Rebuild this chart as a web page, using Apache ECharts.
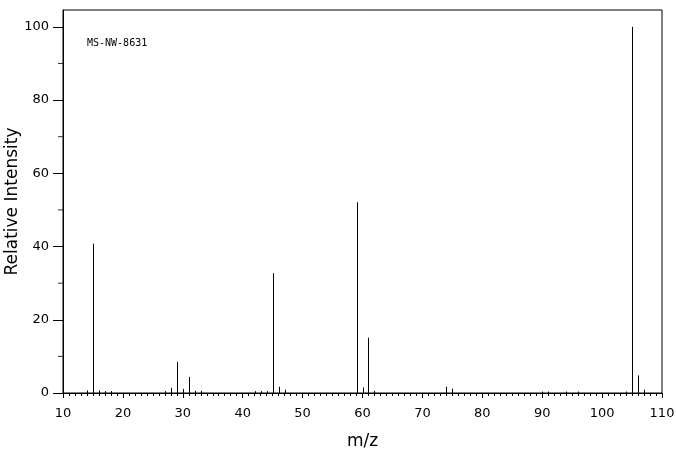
<!DOCTYPE html>
<html>
<head>
<meta charset="utf-8">
<script src="https://cdn.jsdelivr.net/npm/echarts@6/dist/echarts.min.js"></script>
<style>
  html, body { margin: 0; padding: 0; background: #fff; }
  #chart { width: 676px; height: 455px; }
</style>
</head>
<body>
<div id="chart"></div>
<script>
// m/z positions and relative intensities
const mzValues = [14, 15, 16, 17, 18, 27, 28, 29, 30, 31, 32, 33,
  42, 43, 44, 45, 46, 47, 59, 60, 61, 62, 74, 75, 90, 91, 94, 96,
  104, 105, 106, 107]
const intensities = [0.7, 40.8, 0.7, 0.5, 0.5, 0.5, 1.4, 8.5, 1.1, 4.4, 0.6, 0.6,
  0.5, 0.5, 0.5, 32.7, 1.7, 0.9, 52.1, 1.5, 15.1, 0.6, 1.7, 1.2, 0.4, 0.4, 0.4, 0.4,
  0.4, 100, 4.8, 0.9]
const yLabelValues = [0, 20, 40, 60, 80, 100]
const yTickValues = [0, 10, 20, 30, 40, 50, 60, 70, 80, 90, 100]
const sampleName = 'MS-NW-8631'

const peaks = mzValues.map((mz, i) => [mz, intensities[i]])
const font = 'DejaVu Sans'

// one crisp vertical stick per peak
function renderStick (params, api) {
  let top = api.coord([api.value(0), api.value(1)])
  let base = api.coord([api.value(0), 0])
  let x = Math.round(top[0]) + 0.5
  return {
    type: 'line',
    shape: { x1: x, y1: base[1], x2: x, y2: top[1] },
    style: { stroke: '#000', lineWidth: 1 }
  }
}

let chart = echarts.init(document.getElementById('chart'))
chart.setOption({
  animation: false,
  backgroundColor: '#fff',
  title: {
    text: sampleName,
    left: 82,
    top: 33,
    textStyle: { fontFamily: 'DejaVu Sans Mono', fontSize: 10, fontWeight: 'normal', color: '#000' }
  },
  grid: {
    left: 63,
    right: 14,
    top: 10,
    bottom: 62,
    containLabel: false,
    outerBoundsMode: 'none',
    show: true,
    borderColor: '#000',
    borderWidth: 1
  },
  xAxis: {
    type: 'value',
    min: 10,
    max: 110,
    interval: 10,
    name: 'm/z',
    nameLocation: 'middle',
    nameGap: 40,
    nameMoveOverlap: false,
    nameTextStyle: { fontFamily: font, fontSize: 17, color: '#000' },
    axisLine: { lineStyle: { color: '#000', width: 1 } },
    axisTick: { length: 5, lineStyle: { color: '#000' } },
    minorTick: { show: true, splitNumber: 10, length: 3, lineStyle: { color: '#000' } },
    axisLabel: { fontFamily: font, fontSize: 13, color: '#000', margin: 14 },
    splitLine: { show: false }
  },
  yAxis: {
    type: 'value',
    min: 0,
    max: 104.6,
    name: 'Relative Intensity',
    nameLocation: 'middle',
    nameGap: 42,
    nameMoveOverlap: false,
    nameTextStyle: { fontFamily: font, fontSize: 17, color: '#000' },
    axisLine: { show: true, lineStyle: { color: '#000', width: 1 } },
    axisTick: { show: true, length: 10, customValues: yLabelValues, lineStyle: { color: '#000' } },
    minorTick: { show: false },
    axisLabel: { fontFamily: font, fontSize: 13, color: '#000', margin: 14, customValues: yLabelValues },
    splitLine: { show: false }
  },
  series: [
    {
      // minor y ticks at odd tens, drawn as short marks on the axis
      type: 'scatter',
      symbol: 'rect',
      symbolSize: [5, 1],
      symbolOffset: [-2.5, 0],
      silent: true,
      itemStyle: { color: '#000' },
      data: yTickValues.filter(v => v % 20 !== 0).map(v => [10, v])
    },
    {
      type: 'custom',
      renderItem: renderStick,
      encode: { x: 0, y: 1 },
      data: peaks
    }
  ]
})
</script>
</body>
</html>
